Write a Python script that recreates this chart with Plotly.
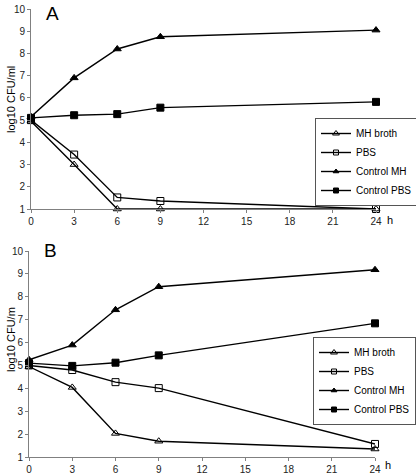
import plotly.graph_objects as go

hours = [0, 3, 6, 9, 24]
series_names = ["MH broth", "PBS", "Control MH", "Control PBS"]

# Panel A
a_mh_broth = [4.95, 3.0, 1.0, 1.0, 1.0]
a_pbs = [5.0, 3.45, 1.52, 1.36, 1.0]
a_control_mh = [5.15, 6.9, 8.2, 8.75, 9.05]
a_control_pbs = [5.1, 5.22, 5.27, 5.56, 5.82]

# Panel B
b_mh_broth = [4.95, 4.04, 2.03, 1.69, 1.35]
b_pbs = [5.0, 4.8, 4.27, 4.01, 1.57]
b_control_mh = [5.25, 5.89, 7.43, 8.44, 9.18]
b_control_pbs = [5.1, 4.98, 5.12, 5.44, 6.84]

x_ticks = [0, 3, 6, 9, 12, 15, 18, 21, 24]
y_ticks = list(range(1, 11))

symbols = ["triangle-up-open", "square-open", "triangle-up", "square"]
legend_marker_sizes = [6, 5, 5, 5]

W, H = 416, 475
FONT = "Liberation Sans, Arial, sans-serif"

fig = go.Figure()

panels = [
    ([a_mh_broth, a_pbs, a_control_mh, a_control_pbs], "x", "y", "legend"),
    ([b_mh_broth, b_pbs, b_control_mh, b_control_pbs], "x2", "y2", "legend2"),
]
for vals, xa, ya, leg in panels:
    for name, v, sym in zip(series_names, vals, symbols):
        fig.add_trace(go.Scatter(
            x=hours, y=v, name=name, mode="lines+markers",
            xaxis=xa, yaxis=ya, showlegend=False,
            line=dict(color="black", width=1.4),
            marker=dict(symbol=sym, size=7, color="black",
                        line=dict(color="black", width=1)),
            cliponaxis=False,
        ))
    # legend entries (smaller markers, as in the reference legend)
    for name, sym, ms in zip(series_names, symbols, legend_marker_sizes):
        fig.add_trace(go.Scatter(
            x=[None], y=[None], name=name, mode="lines+markers",
            xaxis=xa, yaxis=ya, legend=leg, showlegend=True,
            line=dict(color="black", width=1.4),
            marker=dict(symbol=sym, size=ms, color="black",
                        line=dict(color="black", width=1)),
        ))

def px_x(p):
    return p / W

def px_y(p):
    return 1 - p / H

axis_common = dict(
    showgrid=False, zeroline=False, showline=True, linecolor="#808080",
    linewidth=1, ticks="outside", ticklen=3, tickcolor="#808080",
    tickfont=dict(family=FONT, size=10, color="#222222"),
    automargin=False,
)

legend_common = dict(
    xanchor="left", yanchor="top",
    bordercolor="#555555", borderwidth=1, bgcolor="white",
    font=dict(family=FONT, size=10, color="black"), itemwidth=30,
    tracegroupgap=0,
)

fig.update_layout(
    width=W, height=H,
    margin=dict(l=0, r=0, t=0, b=0, pad=0, autoexpand=False),
    paper_bgcolor="white", plot_bgcolor="white",
    font=dict(family=FONT, color="black"),
    xaxis=dict(domain=[px_x(31), px_x(376)], range=[0, 24], tickvals=x_ticks,
               anchor="y", **axis_common),
    yaxis=dict(domain=[px_y(209), px_y(9)], range=[1, 10], tickvals=y_ticks,
               anchor="x", **axis_common),
    xaxis2=dict(domain=[px_x(29), px_x(375)], range=[0, 24], tickvals=x_ticks,
                anchor="y2", **axis_common),
    yaxis2=dict(domain=[px_y(457), px_y(251)], range=[1, 10], tickvals=y_ticks,
                anchor="x2", **axis_common),
    legend=dict(x=px_x(315), y=px_y(118), **legend_common),
    legend2=dict(x=px_x(313), y=px_y(337), **legend_common),
    showlegend=True,
    hovermode=False,
)

annotations = [
    dict(text="A", x=px_x(52), y=px_y(1), yanchor="top", font=dict(size=19)),
    dict(text="B", x=px_x(50), y=px_y(238), yanchor="top", font=dict(size=19)),
    dict(text="h", x=px_x(390), y=px_y(220), font=dict(size=11)),
    dict(text="h", x=px_x(388), y=px_y(465), font=dict(size=11)),
    dict(text="log10 CFU/ml", x=px_x(11), y=px_y(100), textangle=-90, font=dict(size=11)),
    dict(text="log10 CFU/m", x=px_x(11), y=px_y(340), textangle=-90, font=dict(size=11)),
]
for a in annotations:
    a.setdefault("yanchor", "middle")
    a.update(xref="paper", yref="paper", showarrow=False, xanchor="center")
    a["font"].update(family=FONT, color="black")
fig.update_layout(annotations=annotations)

fig.write_html(
    "out.html",
    config={"displayModeBar": False},
    post_script="document.body.style.margin='0';document.body.style.overflow='hidden';",
)
